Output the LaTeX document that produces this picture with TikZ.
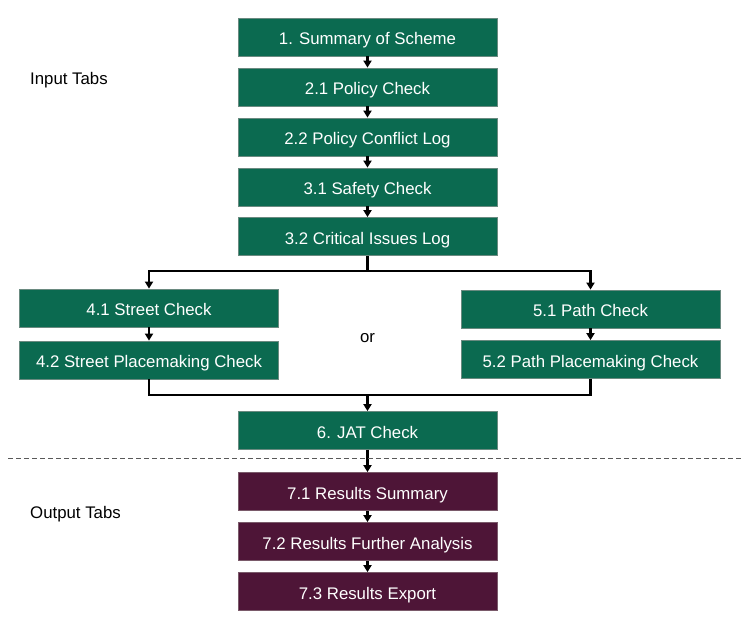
\documentclass[tikz,border=0pt]{standalone}
\usepackage{fontspec}
\setmainfont{Liberation Sans}
\usetikzlibrary{arrows.meta}
\definecolor{boxgreen}{HTML}{0B6A50}
\definecolor{boxpurple}{HTML}{4E1537}
\definecolor{edgegray}{HTML}{6A8A80}
\definecolor{edgepurple}{HTML}{7A5A6A}
\tikzset{
  gbox/.style={rectangle, fill=boxgreen, draw=edgegray, line width=0.8pt, text=white,
    minimum width=259pt, minimum height=38pt, inner sep=0pt,
    text height=15.5pt, text depth=0pt,
    font=\fontsize{16.8}{19}\selectfont},
  pbox/.style={gbox, fill=boxpurple, draw=edgepurple},
  lbl/.style={font=\fontsize{16.8}{19}\selectfont, text=black, inner sep=0pt,
    text height=15.5pt, text depth=0pt},
  arr/.style={line width=2.4pt, -{Triangle[length=7pt,width=8pt]}},
  ln/.style={line width=2.4pt}
}
\begin{document}
\begin{tikzpicture}[x=1pt,y=-1pt]
\useasboundingbox (0,0) rectangle (749,622);
\node[gbox] (b1) at (367.5,37) {1. Summary of Scheme};
\node[gbox] (b21) at (367.5,87) {2.1 Policy Check};
\node[gbox] (b22) at (367.5,137) {2.2 Policy Conflict Log};
\node[gbox] (b31) at (367.5,187) {3.1 Safety Check};
\node[gbox] (b32) at (367.5,236.5) {3.2 Critical Issues Log};
\node[gbox] (b41) at (149,308) {4.1 Street Check};
\node[gbox] (b42) at (149,360) {4.2 Street Placemaking Check};
\node[gbox] (b51) at (590.5,309) {5.1 Path Check};
\node[gbox] (b52) at (590.5,359.5) {5.2 Path Placemaking Check};
\node[gbox] (b6) at (367.5,430.5) {6. JAT Check};
\node[pbox] (b71) at (367.5,491.5) {7.1 Results Summary};
\node[pbox] (b72) at (367.5,541.5) {7.2 Results Further Analysis};
\node[pbox] (b73) at (367.5,591.5) {7.3 Results Export};

\node[lbl, anchor=west] (in) at (30,77) {Input Tabs};
\node[lbl, anchor=west] (out) at (30,511) {Output Tabs};
\node[lbl] (or) at (367.5,335) {or};

\coordinate (split) at (367.5,271);
\coordinate (merge) at (367.5,395);
\coordinate (dl) at (8,458);
\coordinate (dr) at (741,458);

\draw[arr] (b1) -- (b21);
\draw[arr] (b21) -- (b22);
\draw[arr] (b22) -- (b31);
\draw[arr] (b31) -- (b32);
\draw[ln] (b32.south) -- (split);
\draw[arr] (split) -| (b41.north);
\draw[arr] (split) -| (b51.north);
\draw[arr] (b41) -- (b42);
\draw[arr] (b51) -- (b52);
\draw[ln] (b42.south) |- (merge);
\draw[ln] (b52.south) |- (merge);
\draw[arr] (merge) -- (b6.north);
\draw[arr] (b6) -- (b71);
\draw[arr] (b71) -- (b72);
\draw[arr] (b72) -- (b73);
\draw[line width=0.8pt, gray!70!black, dash pattern=on 5pt off 3pt] (dl) -- (dr);
\end{tikzpicture}
\end{document}
